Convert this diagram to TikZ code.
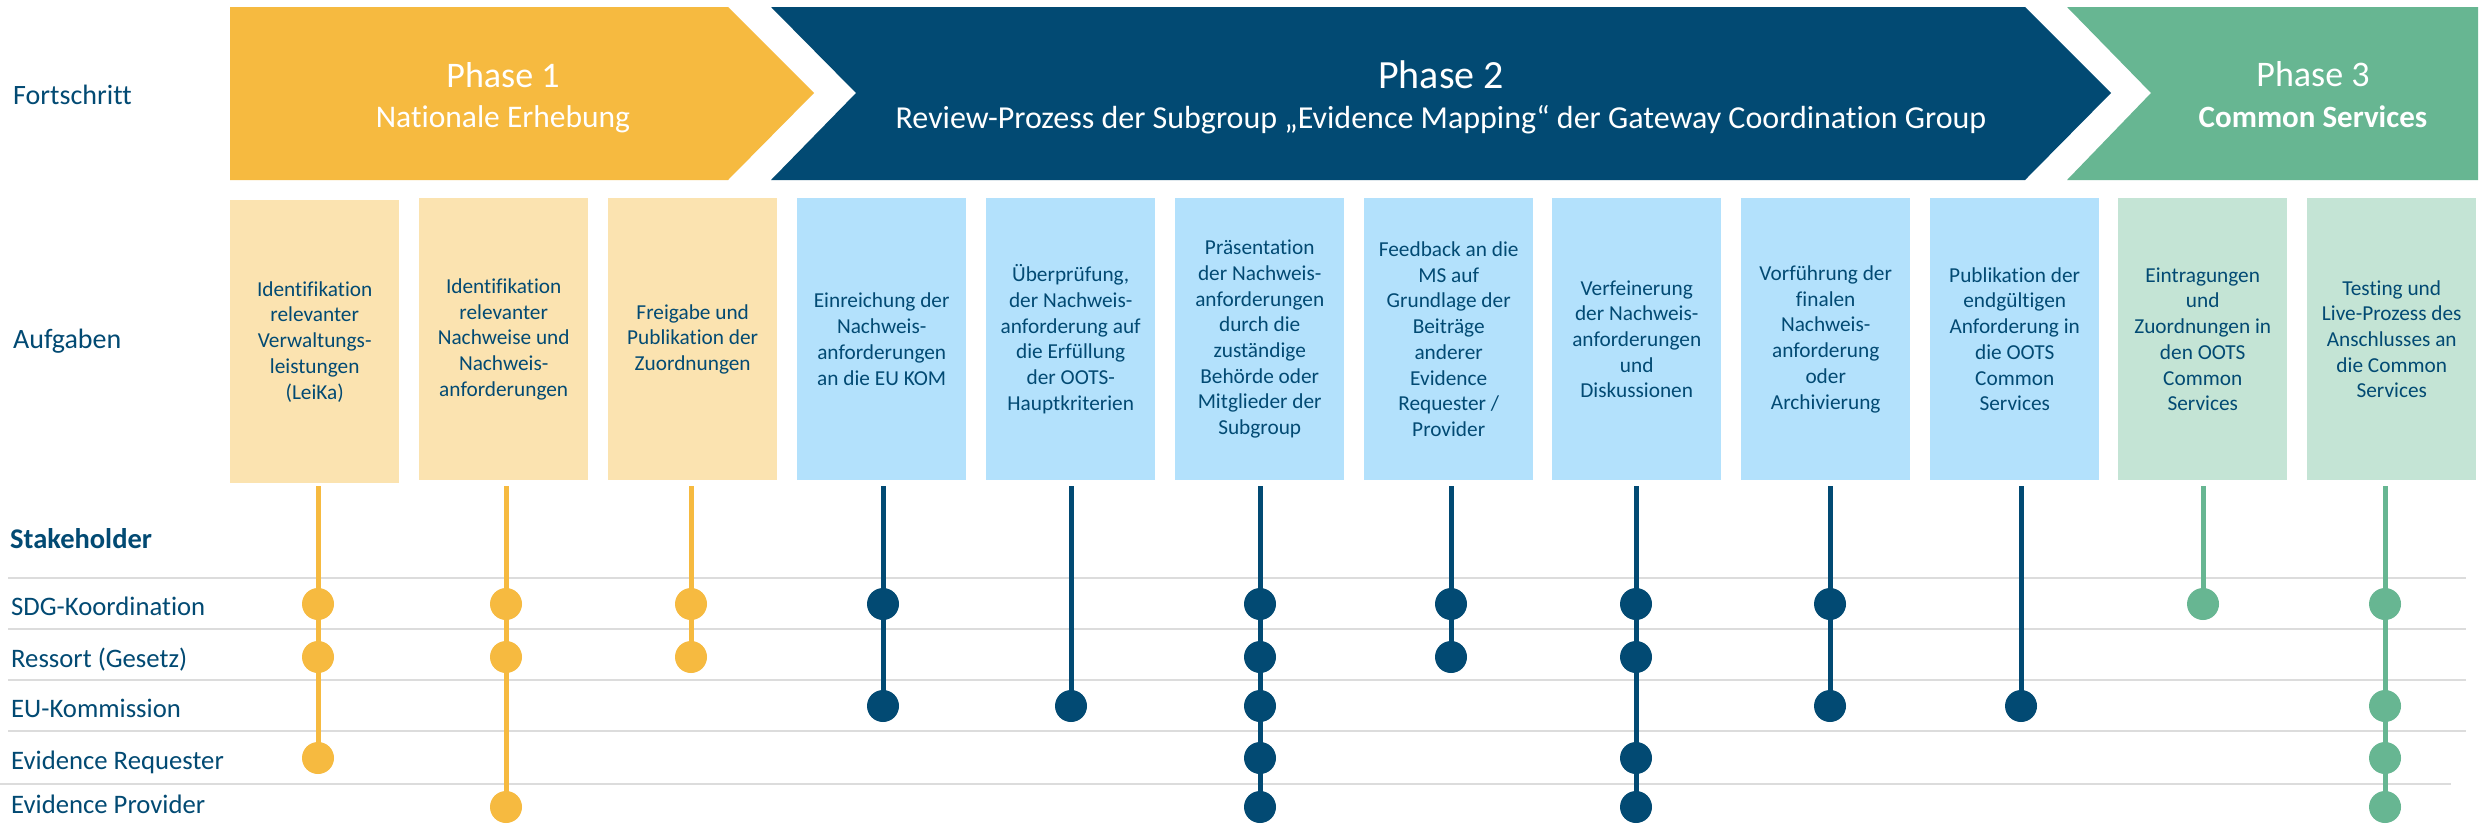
\documentclass[tikz,border=0pt]{standalone}
\usepackage{fontspec}
\setmainfont{Carlito}[Ligatures=NoCommon]
\definecolor{darkblue}{HTML}{024A73}
\definecolor{orangeC}{HTML}{F6BA40}
\definecolor{greenC}{HTML}{67B692}
\definecolor{lightO}{HTML}{FBE3B0}
\definecolor{lightB}{HTML}{B3E1FC}
\definecolor{lightG}{HTML}{C4E4D5}
\definecolor{sepgray}{HTML}{DCDCDC}
\begin{document}
\begin{tikzpicture}[x=1pt,y=-1pt,
  lbl/.style={text=darkblue, font=\fontsize{28}{34}\selectfont, anchor=base west, inner sep=0pt},
  rowlbl/.style={text=darkblue, font=\fontsize{26.7}{31}\selectfont, anchor=base west, inner sep=0pt},
  phtitle/.style={text=white, anchor=base, inner sep=0pt},
  taskbox/.style={minimum width=169pt, minimum height=282pt, inner sep=0pt, anchor=north west, align=center, text=darkblue, font=\fontsize{21.3}{25.7}\selectfont},
  dotc/.style={circle, minimum size=32pt, inner sep=0pt},
  sepline/.style={sepgray, line width=2.5pt},
  vline/.style={line width=5pt}
]
\useasboundingbox (0,0) rectangle (2483,830);
\fill[white] (0,0) rectangle (2483,830);

% phase arrows
\fill[orangeC] (230,7) -- (728,7) -- (814,93) -- (728,180) -- (230,180) -- cycle;
\fill[darkblue] (771,7) -- (2025,7) -- (2111,93) -- (2025,180) -- (771,180) -- (856,93) -- cycle;
\fill[greenC] (2067,7) -- (2478,7) -- (2478,180) -- (2067,180) -- (2151,93) -- cycle;

\node[phtitle, font=\fontsize{36}{40}\selectfont] (p1t) at (503,87) {Phase 1};
\node[phtitle, font=\fontsize{31.5}{36}\selectfont] (p1s) at (503,127) {Nationale Erhebung};
\node[phtitle, font=\fontsize{40}{44}\selectfont] (p2t) at (1441,88) {Phase 2};
\node[phtitle, font=\fontsize{32}{36}\selectfont] (p2s) at (1441,128) {Review-Prozess der Subgroup „Evidence Mapping“ der Gateway Coordination Group};
\node[phtitle, font=\fontsize{36}{40}\selectfont] (p3t) at (2313,86) {Phase 3};
\node[phtitle, font=\bfseries\fontsize{31}{34}\selectfont] (p3s) at (2313,127) {Common Services};

% left labels
\node[lbl] (fort) at (13,104) {Fortschritt};
\node[lbl] (aufg) at (13,348) {Aufgaben};
\node[lbl, font=\bfseries\fontsize{28.5}{34}\selectfont] (stake) at (10,548) {Stakeholder};

% task boxes
\node[taskbox, fill=lightO, minimum height=283pt] (b1) at (230,200) {Identifikation\\relevanter\\Verwaltungs-\\leistungen\\(LeiKa)};
\node[taskbox, fill=lightO] (b2) at (419,198) {Identifikation\\relevanter\\Nachweise und\\Nachweis-\\anforderungen};
\node[taskbox, fill=lightO] (b3) at (608,198) {Freigabe und\\Publikation der\\Zuordnungen};
\node[taskbox, fill=lightB] (b4) at (797,198) {Einreichung der\\Nachweis-\\anforderungen\\an die EU KOM};
\node[taskbox, fill=lightB] (b5) at (986,198) {Überprüfung,\\der Nachweis-\\anforderung auf\\die Erfüllung\\der OOTS-\\Hauptkriterien};
\node[taskbox, fill=lightB] (b6) at (1175,198) {Präsentation\\der Nachweis-\\anforderungen\\durch die\\zuständige\\Behörde oder\\Mitglieder der\\Subgroup};
\node[taskbox, fill=lightB] (b7) at (1364,198) {Feedback an die\\MS auf\\Grundlage der\\Beiträge\\anderer\\Evidence\\Requester /\\Provider};
\node[taskbox, fill=lightB] (b8) at (1552,198) {Verfeinerung\\der Nachweis-\\anforderungen\\und\\Diskussionen};
\node[taskbox, fill=lightB] (b9) at (1741,198) {Vorführung der\\finalen\\Nachweis-\\anforderung\\oder\\Archivierung};
\node[taskbox, fill=lightB] (b10) at (1930,198) {Publikation der\\endgültigen\\Anforderung in\\die OOTS\\Common\\Services};
\node[taskbox, fill=lightG] (b11) at (2118,198) {Eintragungen\\und\\Zuordnungen in\\den OOTS\\Common\\Services};
\node[taskbox, fill=lightG] (b12) at (2307,198) {Testing und\\Live-Prozess des\\Anschlusses an\\die Common\\Services};

% separator lines
\draw[sepline] (8,578) -- (2466,578);
\draw[sepline] (8,629) -- (2466,629);
\draw[sepline] (8,680) -- (2466,680);
\draw[sepline] (8,731) -- (2466,731);
\draw[sepline] (0,784) -- (2451,784);

% row labels
\node[rowlbl] (r1) at (11,615) {SDG-Koordination};
\node[rowlbl] (r2) at (11,667) {Ressort (Gesetz)};
\node[rowlbl] (r3) at (11,717) {EU-Kommission};
\node[rowlbl] (r4) at (11,769) {Evidence Requester};
\node[rowlbl] (r5) at (11,813) {Evidence Provider};

% stakeholder dots and lines
\foreach \k/\cx/\c/\rows/\last in {
  1/318/orangeC/{1,2,4}/4,
  2/506/orangeC/{1,2,5}/5,
  3/691/orangeC/{1,2}/2,
  4/883/darkblue/{1,3}/3,
  5/1071/darkblue/{3}/3,
  6/1260/darkblue/{1,2,3,4,5}/5,
  7/1451/darkblue/{1,2}/2,
  8/1636/darkblue/{1,2,4,5}/5,
  9/1830/darkblue/{1,3}/3,
  10/2021/darkblue/{3}/3,
  11/2203/greenC/{1}/1,
  12/2385/greenC/{1,3,4,5}/5} {
  \coordinate (t\k) at (\cx,486);
  \foreach \r in \rows {
    \pgfmathsetmacro{\ry}{{604,657,706,758,807}[\r-1]}
    \node[dotc, fill=\c] (d\k-\r) at (\cx,\ry) {};
  }
  \draw[vline, \c] (t\k) -- (d\k-\last.center);
}
\end{tikzpicture}
\end{document}
